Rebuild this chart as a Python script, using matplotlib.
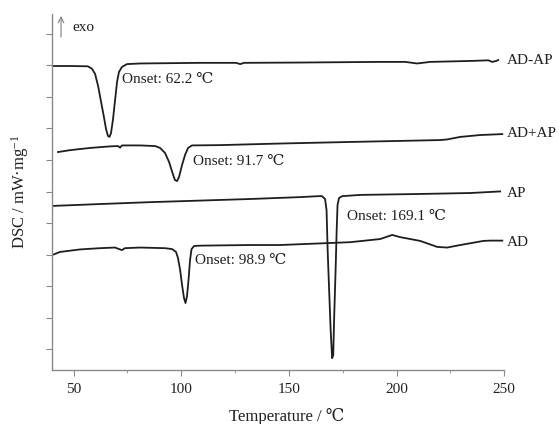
import matplotlib
matplotlib.use("Agg")
import matplotlib.pyplot as plt
import numpy as np

plt.rcParams['font.family'] = ['Liberation Serif', 'DejaVu Serif']
plt.rcParams['mathtext.default'] = 'regular'

# DSC traces (temperature in °C, heat flow in stacked arbitrary units)
t_adap = [40, 48.4, 56.7, 58.6, 60.0, 61.4, 62.8, 64.2, 65.1, 66.0, 66.7, 67.4, 68.3,
          69.3, 70.2, 71.1, 72.5, 74.8, 80.9, 108.8, 125.5, 127.4, 129.2, 155.2, 192.4,
          204.0, 209.6, 215.6, 234.2, 242.6, 244.4, 246.3, 247.2]
y_adap = [9.65, 9.65, 9.64, 9.56, 9.40, 9.02, 8.51, 8.00, 7.65, 7.43, 7.40, 7.52, 7.94,
          8.57, 9.14, 9.46, 9.62, 9.71, 9.73, 9.75, 9.75, 9.71, 9.75, 9.76, 9.78,
          9.78, 9.73, 9.78, 9.81, 9.83, 9.78, 9.81, 9.84]

t_mix = [42.8, 48.4, 57.7, 67.0, 70.7, 71.6, 72.5, 80.9, 87.9, 90.2, 92.5, 94.4, 95.8,
         97.1, 98.1, 99.0, 100.4, 101.8, 103.2, 105.0, 118.1, 145.9, 178.5, 220.3,
         223.5, 229.6, 238.9, 245.8, 249.1]
y_mix = [6.92, 6.98, 7.05, 7.10, 7.11, 7.06, 7.13, 7.13, 7.11, 7.05, 6.89, 6.60, 6.29,
         6.03, 6.00, 6.13, 6.51, 6.83, 7.05, 7.13, 7.14, 7.19, 7.24, 7.30,
         7.32, 7.40, 7.46, 7.48, 7.49]

t_ap = [40, 62.3, 85.5, 108.8, 132.0, 155.2, 163.6, 165.4, 166.8, 167.5, 168.0, 168.7,
        169.4, 170.1, 170.6, 171.0, 171.7, 172.2, 172.6, 173.3, 174.7, 183.1, 211.0,
        234.2, 248.1]
y_ap = [5.21, 5.27, 5.33, 5.38, 5.43, 5.49, 5.52, 5.52, 5.43, 5.08, 3.81, 2.54,
        1.27, 0.38, 0.48, 1.59, 3.18, 4.44, 5.24, 5.46, 5.52, 5.56, 5.59,
        5.62, 5.67]

t_ad = [40, 43.7, 53.0, 62.3, 69.3, 71.6, 72.5, 73.9, 80.9, 92.5, 95.8, 97.6, 98.5,
        99.5, 100.4, 101.3, 102.0, 102.7, 103.4, 104.1, 104.8, 106.0, 108.8, 132.0,
        145.9, 178.5, 192.4, 198.0, 201.7, 211.0, 218.9, 223.5, 229.6, 240.3, 243.5,
        249.1]
y_ad = [3.65, 3.75, 3.83, 3.87, 3.89, 3.83, 3.81, 3.87, 3.89, 3.87, 3.84, 3.75, 3.56,
        3.18, 2.70, 2.29, 2.13, 2.35, 2.86, 3.49, 3.84, 3.94, 3.95, 3.97,
        3.97, 4.06, 4.16, 4.29, 4.22, 4.10, 3.91, 3.89, 3.97, 4.10, 4.11,
        4.11]

names = ['AD-AP', 'AD+AP', 'AP', 'AD']
name_y = [9.84, 7.52, 5.62, 4.06]

onset_text = ['Onset: 62.2 ℃', 'Onset: 91.7 ℃', 'Onset: 169.1 ℃', 'Onset: 98.9 ℃']
onset_pos = [(72.5, 9.21), (105.5, 6.63), (177.1, 4.86), (106.4, 3.49)]

x_ticks = [50, 100, 150, 200, 250]

fig = plt.figure(figsize=(5.59, 4.24), dpi=100)
ax = fig.add_axes([0.093, 0.127, 0.809, 0.840])

line_kw = dict(color='#1e1e1e', lw=1.3)
for t, y in [(t_adap, y_adap), (t_mix, y_mix), (t_ap, y_ap), (t_ad, y_ad)]:
    ax.plot(t, y, **line_kw)

ax.set_xlim(40, 250)
ax.set_ylim(0, 11.3)
ax.set_xticks(x_ticks)
ax.set_xticks([75, 125, 175, 225], minor=True)
ax.set_yticks(0.667 + np.arange(11))
ax.set_yticklabels([])

for s in ['top', 'right']:
    ax.spines[s].set_visible(False)
for s in ['left', 'bottom']:
    ax.spines[s].set_color('#8a8a8a')
    ax.spines[s].set_linewidth(1.0)
ax.tick_params(axis='both', which='major', direction='out', length=4, color='#8a8a8a',
               labelsize=11, labelcolor='#222222', pad=5)
ax.tick_params(axis='x', which='minor', direction='out', length=2.5, color='#8a8a8a')

ax.set_xlabel('Temperature / ℃', fontsize=12, color='#222222')
ax.xaxis.set_label_coords(0.52, -0.105)
ax.set_ylabel('DSC / mW·mg$^{-1}$', fontsize=12, color='#222222', labelpad=6)

for n, yy in zip(names, name_y):
    ax.text(251.2, yy, n, fontsize=11, va='center', ha='left', color='#1e1e1e')

for s, (tx, ty) in zip(onset_text, onset_pos):
    ax.text(tx, ty, s, fontsize=11, va='center', ha='left', color='#1e1e1e')

ax.annotate('', xy=(44.2, 11.33), xytext=(44.2, 10.48),
            arrowprops=dict(arrowstyle='->', color='#8a8a8a', lw=0.9),
            annotation_clip=False)
ax.text(49.3, 10.86, 'exo', fontsize=11, va='center', ha='left', color='#1e1e1e')

fig.savefig('out.png', dpi=100)
